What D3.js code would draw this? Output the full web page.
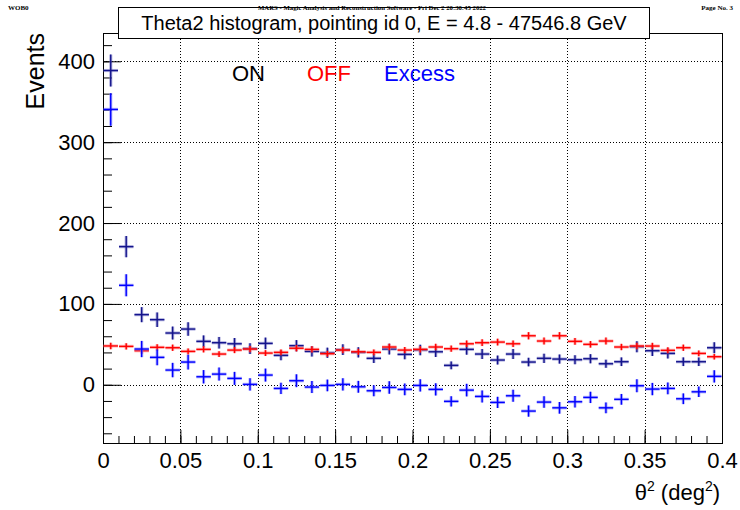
<!DOCTYPE html>
<html>
<head>
<meta charset="utf-8">
<script src="https://cdn.jsdelivr.net/npm/d3@7"></script>
<style>
  html, body { margin: 0; padding: 0; background: #fff; }
  svg { display: block; }
  text { font-family: "Liberation Sans", Arial, Helvetica, sans-serif; }
</style>
</head>
<body>
<svg id="chart" width="740" height="510"></svg>
<script>
// ---------- data ----------
const binLow = [0.00,0.01,0.02,0.03,0.04,0.05,0.06,0.07,0.08,0.09,
                0.10,0.11,0.12,0.13,0.14,0.15,0.16,0.17,0.18,0.19,
                0.20,0.21,0.22,0.23,0.24,0.25,0.26,0.27,0.28,0.29,
                0.30,0.31,0.32,0.33,0.34,0.35,0.36,0.37,0.38,0.39];
const binWidth = 0.01;
const onCounts = [388.6,170.8,86.7,80.5,64.0,68.9,53.7,52.0,50.7,44.7,
                  51.2,36.4,48.3,41.3,39.6,43.4,40.1,32.7,44.2,37.6,
                  43.0,40.8,24.0,43.8,38.0,30.6,38.0,28.1,32.7,31.8,
                  31.0,32.2,26.0,28.5,47.0,42.1,38.8,28.5,28.5,45.8];
const offCounts = [48.0,47.5,42.1,46.3,45.8,41.3,43.8,38.0,42.9,44.2,
                   39.2,40.1,45.2,43.8,38.4,42.9,40.8,40.1,46.7,42.9,
                   43.8,46.7,44.6,50.7,52.0,52.8,50.7,60.6,54.1,60.6,
                   53.7,50.0,54.1,46.7,47.9,47.9,42.6,45.8,38.8,34.7];
const excessCounts = [340.5,123.0,44.2,33.9,18.2,28.1,9.9,13.2,7.9,0.5,
                      12.0,-4.5,5.0,-2.8,-0.8,0.5,-2.5,-7.4,-3.3,-5.7,
                      -0.8,-5.7,-20.5,-6.6,-14.4,-21.8,-13.6,-32.5,-21.4,-28.5,
                      -21.0,-15.6,-28.5,-18.0,-1.2,-5.3,-4.5,-17.3,-8.7,10.4];
const offNormalization = 1 / 3;   // OFF taken from 3 wobble positions

const xTickValues = [0,0.05,0.1,0.15,0.2,0.25,0.3,0.35,0.4];
const xTickLabels = ["0","0.05","0.1","0.15","0.2","0.25","0.3","0.35","0.4"];
const xMinorTicks = d3.range(0, 41).map(i => i / 100);
const yTickValues = [0,100,200,300,400];
const yTickLabels = ["0","100","200","300","400"];
const yMinorTicks = d3.range(-60, 421, 20);

const titleText = "Theta2 histogram, pointing id 0, E = 4.8 - 47546.8 GeV";
const headerLeft = "WOB0";
const headerCenter = "MARS - Magic Analysis and Reconstruction Software - Fri Dec  2 20:30:45 2022";
const headerRight = "Page No. 3";
const legendLabels = ["ON", "OFF", "Excess"];

// ---------- drawing ----------
const svg = d3.select("#chart");
const L = 103, R = 722, T = 33, B = 443;
const x = d3.scaleLinear().domain([0, 0.4]).range([L, R]);
const y = d3.scaleLinear().domain([-72, 435]).range([B, T]);

// grid (dotted)
const grid = svg.append("g").attr("stroke", "#000").attr("stroke-width", 1)
  .attr("stroke-dasharray", "1,2").attr("fill", "none");
grid.selectAll("line.gx").data(xTickValues.slice(1, -1)).join("line")
  .attr("x1", d => Math.round(x(d)) + 0.5).attr("x2", d => Math.round(x(d)) + 0.5)
  .attr("y1", T).attr("y2", B);
grid.selectAll("line.gy").data(yTickValues).join("line")
  .attr("x1", L).attr("x2", R)
  .attr("y1", d => Math.round(y(d)) + 0.5).attr("y2", d => Math.round(y(d)) + 0.5);

// axes
const fmtX = d => xTickLabels[xTickValues.indexOf(d)];
const fmtY = d => yTickLabels[yTickValues.indexOf(d)];

const xMinor = svg.append("g").attr("transform", `translate(0,${B})`)
  .call(d3.axisBottom(x).tickValues(xMinorTicks).tickSize(-7).tickFormat(""));
const xMajor = svg.append("g").attr("transform", `translate(0,${B})`)
  .call(d3.axisBottom(x).tickValues(xTickValues).tickSize(-13).tickPadding(9).tickFormat(fmtX));
const yMinor = svg.append("g").attr("transform", `translate(${L},0)`)
  .call(d3.axisLeft(y).tickValues(yMinorTicks).tickSize(-9).tickFormat(""));
const yMajor = svg.append("g").attr("transform", `translate(${L},0)`)
  .call(d3.axisLeft(y).tickValues(yTickValues).tickSize(-18).tickPadding(8).tickFormat(fmtY));

[xMinor, xMajor, yMinor, yMajor].forEach(g => {
  g.select(".domain").remove();
  g.selectAll(".tick line").attr("stroke", "#000").attr("stroke-width", 1);
  g.selectAll("text").attr("font-size", 22).attr("fill", "#000")
    .attr("font-family", "'Liberation Sans', Arial, sans-serif");
});

// frame
svg.append("rect").attr("x", L + 0.5).attr("y", T + 0.5)
  .attr("width", R - L).attr("height", B - T)
  .attr("fill", "none").attr("stroke", "#000").attr("stroke-width", 1);

// histogram crosses
const bins = binLow.map((lo, i) => ({
  lo, hi: lo + binWidth, mid: lo + binWidth / 2,
  on: onCounts[i], off: offCounts[i], ex: excessCounts[i],
  onErr: Math.sqrt(onCounts[i]),
  offErr: Math.sqrt(offCounts[i] * offNormalization),
  exErr: Math.sqrt(onCounts[i] + offCounts[i] * offNormalization)
}));

function drawCrosses(key, errKey, color, halo) {
  const g = svg.append("g");
  [[halo, 3.2, 0.55], [color, 1.4, 1]].forEach(([c, w, op]) => {
    const layer = g.append("g").attr("stroke", c).attr("stroke-width", w)
      .attr("stroke-opacity", op).attr("fill", "none");
    layer.selectAll("line.h").data(bins).join("line")
      .attr("x1", d => x(d.lo) + 0.5).attr("x2", d => x(d.hi) - 0.5)
      .attr("y1", d => y(d[key])).attr("y2", d => y(d[key]));
    layer.selectAll("line.v").data(bins).join("line")
      .attr("x1", d => x(d.mid)).attr("x2", d => x(d.mid))
      .attr("y1", d => y(d[key] - d[errKey])).attr("y2", d => y(d[key] + d[errKey]));
  });
}
drawCrosses("on", "onErr", "#14148c", "#7a7ac8");
drawCrosses("off", "offErr", "#ff0000", "#ff8080");
drawCrosses("ex", "exErr", "#0000ff", "#8080ff");

// title box
svg.append("rect").attr("x", 118.5).attr("y", 7.5).attr("width", 531).attr("height", 31)
  .attr("fill", "#fff").attr("stroke", "#000").attr("stroke-width", 1);
svg.append("text").attr("x", 384).attr("y", 30).attr("text-anchor", "middle")
  .attr("font-size", 20).attr("fill", "#000").text(titleText);

// legend labels
const legendX = [232, 307, 384];
const legendColor = ["#000000", "#ff0000", "#0000ff"];
svg.selectAll("text.leg").data(legendLabels).join("text").attr("class", "leg")
  .attr("x", (d, i) => legendX[i]).attr("y", 81)
  .attr("font-size", 22).attr("fill", (d, i) => legendColor[i]).text(d => d);

// axis titles
svg.append("text").attr("transform", `translate(44,${T}) rotate(-90)`)
  .attr("text-anchor", "end").attr("font-size", 25).attr("fill", "#000").text("Events");

const xt = svg.append("text").attr("x", 720).attr("y", 500).attr("text-anchor", "end")
  .attr("font-size", 22).attr("fill", "#000");
xt.append("tspan").text("θ");
xt.append("tspan").attr("dy", -9).attr("font-size", 14).text("2");
xt.append("tspan").attr("dy", 9).text(" (deg");
xt.append("tspan").attr("dy", -9).attr("font-size", 14).text("2");
xt.append("tspan").attr("dy", 9).text(")");

// page header
const hdr = svg.append("g").attr("font-family", "'Liberation Serif', 'Times New Roman', serif")
  .attr("font-weight", "bold").attr("font-size", 7).attr("fill", "#000");
hdr.append("text").attr("x", 8).attr("y", 10).style("font-family", "'Liberation Serif', serif").text(headerLeft);
hdr.append("text").attr("x", 372).attr("y", 10).attr("text-anchor", "middle")
  .attr("textLength", 228).attr("lengthAdjust", "spacingAndGlyphs")
  .style("font-family", "'Liberation Serif', serif").text(headerCenter);
hdr.append("text").attr("x", 733).attr("y", 10).attr("text-anchor", "end")
  .style("font-family", "'Liberation Serif', serif").text(headerRight);
</script>
</body>
</html>
